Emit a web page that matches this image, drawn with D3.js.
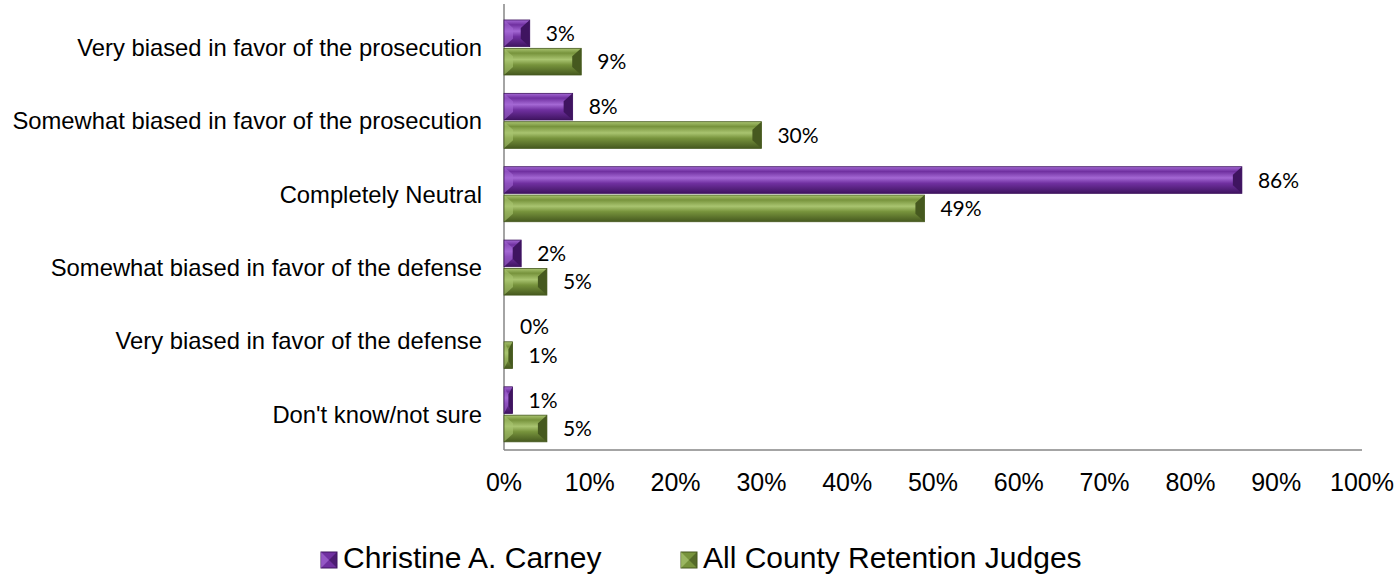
<!DOCTYPE html>
<html>
<head>
<meta charset="utf-8">
<script src="https://cdn.jsdelivr.net/npm/d3@7"></script>
<style>
  body { margin: 0; background: #fff; }
  svg { display: block; }
</style>
</head>
<body>
<svg id="chart" width="1398" height="575"></svg>
<script>
var categories = [
  'Very biased in favor of the prosecution',
  'Somewhat biased in favor of the prosecution',
  'Completely Neutral',
  'Somewhat biased in favor of the defense',
  'Very biased in favor of the defense',
  "Don't know/not sure"
]
var seriesNames = ['Christine A. Carney', 'All County Retention Judges']
var carney = [3, 8, 86, 2, 0, 1]
var allJudges = [9, 30, 49, 5, 1, 5]
var ticks = [0, 10, 20, 30, 40, 50, 60, 70, 80, 90, 100]

var palette = [
  {main: '#7030a0', light: '#a468d4', dark: '#3f1460', id: 'p'},
  {main: '#77933c', light: '#a9c470', dark: '#46591f', id: 'g'}
]

var svg = d3.select('#chart')
var plotLeft = 504, plotRight = 1362, plotTop = 10.8, plotBottom = 451

var x = d3.scaleLinear().domain([0, 100]).range([plotLeft, plotRight])
var y = d3.scaleBand().domain(categories).range([plotTop, plotBottom]).paddingInner(0.25).paddingOuter(0.125)
var ys = d3.scaleBand().domain([0, 1]).range([0, y.bandwidth()]).paddingInner(0.06)

// gradients for the bevel look
var defs = svg.append('defs')
palette.forEach(function(c) {
  var g = defs.append('linearGradient').attr('id', 'grad' + c.id)
    .attr('x1', 0).attr('y1', 0).attr('x2', 0).attr('y2', 1)
  g.append('stop').attr('offset', '0%').attr('stop-color', c.light)
  g.append('stop').attr('offset', '18%').attr('stop-color', c.main)
  g.append('stop').attr('offset', '42%').attr('stop-color', c.light)
  g.append('stop').attr('offset', '62%').attr('stop-color', c.main)
  g.append('stop').attr('offset', '100%').attr('stop-color', c.dark)
})

// axes lines
svg.append('line').attr('x1', plotLeft).attr('x2', plotLeft).attr('y1', 4).attr('y2', 450)
  .attr('stroke', '#868686').attr('stroke-width', 1.5)
svg.append('line').attr('x1', plotLeft).attr('x2', plotRight).attr('y1', 450).attr('y2', 450)
  .attr('stroke', '#868686').attr('stroke-width', 1.5)

// category labels
svg.append('g').selectAll('text').data(categories).join('text')
  .attr('x', plotLeft - 22)
  .attr('y', function(d) { return y(d) + y.bandwidth() / 2 })
  .attr('dy', '0.35em')
  .attr('text-anchor', 'end')
  .attr('font-family', 'Liberation Sans, Arial, sans-serif')
  .attr('font-size', 23.8)
  .attr('fill', '#000')
  .text(function(d) { return d })

// tick labels
svg.append('g').selectAll('text').data(ticks).join('text')
  .attr('x', function(d) { return x(d) })
  .attr('y', 491)
  .attr('text-anchor', 'middle')
  .attr('font-family', 'Liberation Sans, Arial, sans-serif')
  .attr('font-size', 25)
  .attr('fill', '#000')
  .text(function(d) { return d + '%' })

function bevelBar(g, x0, x1, y0, h, c) {
  var w = x1 - x0
  if (w <= 0) return
  g.append('rect').attr('x', x0).attr('y', y0).attr('width', w).attr('height', h)
    .attr('fill', 'url(#grad' + c.id + ')')
  var b = Math.min(9, w / 2)
  // right dark cap
  g.append('polygon')
    .attr('points', [[x1 - b, y0 + h * 0.3], [x1, y0], [x1, y0 + h], [x1 - b, y0 + h * 0.7]].join(' '))
    .attr('fill', c.dark)
  // left light cap
  g.append('polygon')
    .attr('points', [[x0, y0], [x0 + b, y0 + h * 0.3], [x0 + b, y0 + h * 0.7], [x0, y0 + h]].join(' '))
    .attr('fill', c.light).attr('opacity', 0.6)
  g.append('rect').attr('x', x0).attr('y', y0).attr('width', w).attr('height', h)
    .attr('fill', 'none').attr('stroke', c.dark).attr('stroke-width', 0.8)
}

var series = [carney, allJudges]
series.forEach(function(vals, s) {
  var g = svg.append('g')
  categories.forEach(function(cat, i) {
    var y0 = y(cat) + ys(s)
    bevelBar(g, x(0), x(vals[i]), y0, ys.bandwidth(), palette[s])
    g.append('text')
      .attr('x', x(vals[i]) + 16)
      .attr('y', y0 + ys.bandwidth() / 2)
      .attr('dy', '0.36em')
      .attr('font-family', 'Lato, Open Sans, sans-serif')
      .attr('font-size', 21)
      .attr('fill', '#000')
      .text(vals[i] + '%')
  })
})

// legend
var legendX = [321, 681]
seriesNames.forEach(function(name, s) {
  var lg = svg.append('g')
  var c = palette[s]
  var lx = legendX[s]
  lg.append('rect').attr('x', lx).attr('y', 552).attr('width', 16).attr('height', 16)
    .attr('fill', c.main).attr('stroke', c.dark).attr('stroke-width', 1)
  lg.append('polygon')
    .attr('points', [[lx, 552], [lx + 8, 560], [lx, 568]].join(' '))
    .attr('fill', c.light).attr('opacity', 0.7)
  lg.append('polygon')
    .attr('points', [[lx + 16, 552], [lx + 8, 560], [lx + 16, 568]].join(' '))
    .attr('fill', c.dark).attr('opacity', 0.7)
  lg.append('text')
    .attr('x', lx + 22)
    .attr('y', 568)
    .attr('font-family', 'Liberation Sans, Arial, sans-serif')
    .attr('font-size', 30)
    .attr('fill', '#000')
    .text(name)
})
</script>
</body>
</html>
